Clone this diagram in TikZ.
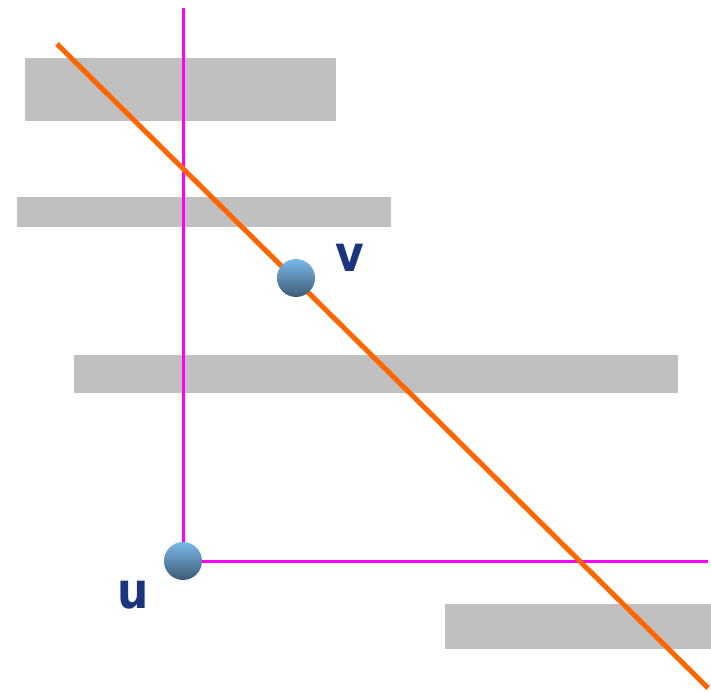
\documentclass[tikz,border=0pt]{standalone}
\usepackage{fontspec}
\usepackage{tikz}
\usetikzlibrary{positioning,calc}
\newfontfamily\etiquetafont{DejaVu Sans}
\definecolor{gris}{HTML}{C0C0C0}
\definecolor{magenta}{HTML}{FF00FF}
\definecolor{naranja}{HTML}{FF6600}
\definecolor{azulclaro}{HTML}{7BB9E8}
\definecolor{azuloscuro}{HTML}{3C5A76}
\definecolor{marino}{HTML}{1B3480}
\tikzset{
  barra/.style={fill=gris,draw=none},
  eje/.style={draw=magenta,line width=3pt},
  recta/.style={draw=naranja,line width=5pt},
  bola/.style={circle,minimum size=38pt,inner sep=0pt,shading=axis,top color=azulclaro,bottom color=azuloscuro},
  letra/.style={text=marino,inner sep=0pt,font=\etiquetafont\bfseries\fontsize{50}{50}\selectfont,xscale=0.88},
}
\begin{document}
\begin{tikzpicture}[x=1pt,y=-1pt]
  \useasboundingbox (0,0) rectangle (711,691);
  % barras grises
  \fill[barra] (25,58) rectangle (336,121);
  \fill[barra] (17,197) rectangle (391,227);
  \fill[barra] (74,355) rectangle (678,393);
  \fill[barra] (445,604) rectangle (711,649);
  % puntos
  \coordinate (pu) at (183,561);
  \coordinate (pv) at (296,278);
  \coordinate (arriba) at (183,8);
  \coordinate (derecha) at (708,561);
  \coordinate (ini) at (57,44);
  \coordinate (fin) at (708,688);
  % ejes y recta
  \draw[eje] (pu) -- (arriba);
  \draw[eje] (pu) -- (derecha);
  \draw[recta] (ini) -- (fin);
  \node[bola] (u) at (pu) {};
  \node[bola] (v) at (pv) {};
  \node[letra] (lu) at (133,595) {u};
  \node[letra] (lv) at (350,258) {v};
\end{tikzpicture}
\end{document}
